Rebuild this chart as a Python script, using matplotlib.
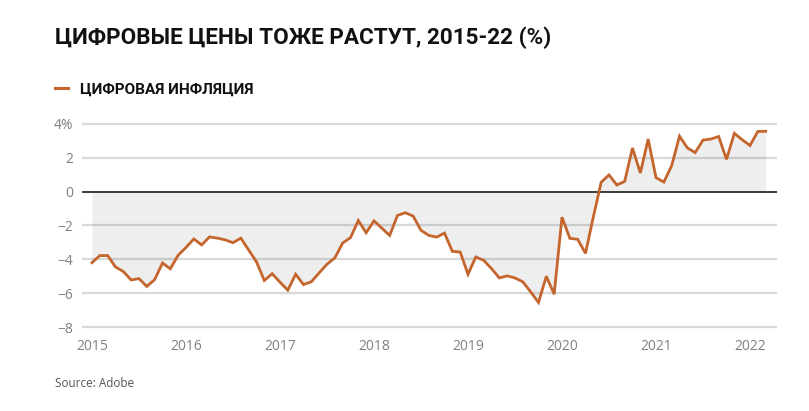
import numpy as np
import matplotlib.pyplot as plt

# monthly digital inflation, Jan 2015 - Mar 2022 (%)
start_year = 2015
values = [-4.2, -3.78, -3.78, -4.45, -4.72, -5.22, -5.14, -5.6, -5.2, -4.22, -4.56, -3.76,
          -3.3, -2.8, -3.15, -2.68, -2.75, -2.85, -3.02, -2.75, -3.45, -4.15, -5.25, -4.85,
          -5.35, -5.82, -4.88, -5.49, -5.33, -4.8, -4.29, -3.92, -3.04, -2.72, -1.71, -2.43,
          -1.73, -2.16, -2.59, -1.41, -1.25, -1.45, -2.29, -2.59, -2.69, -2.45, -3.53, -3.57,
          -4.88, -3.86, -4.06, -4.55, -5.1, -4.98, -5.1, -5.33, -5.92, -6.55, -5.0, -6.06,
          -1.51, -2.76, -2.82, -3.65, -1.5, 0.55, 0.98, 0.39, 0.6, 2.57, 1.1, 3.1,
          0.82, 0.56, 1.53, 3.27, 2.58, 2.3, 3.04, 3.1, 3.25, 1.9, 3.44, 3.06,
          2.72, 3.55, 3.56]
years = [2015, 2016, 2017, 2018, 2019, 2020, 2021, 2022]
yticks = [-8, -6, -4, -2, 0, 2, 4]
ylabels = ['\u22128', '\u22126', '\u22124', '\u22122', '0', '2', '4%']

title = 'ЦИФРОВЫЕ ЦЕНЫ ТОЖЕ РАСТУТ, 2015-22 (%)'
series_name = 'ЦИФРОВАЯ ИНФЛЯЦИЯ'
source = 'Source: Adobe'

orange = '#c4652d'

y = np.array(values)
x = start_year + np.arange(len(y)) / 12.0

fig = plt.figure(figsize=(8.09, 4.11), dpi=100)
ax = fig.add_axes([0.101, 0.196, 0.859, 0.511])

# grid
for t in yticks:
    if t == 0:
        continue
    ax.axhline(t, color='#d9d9d9', lw=1.6, zorder=1)
ax.fill_between(x, y, 0, color='#000000', alpha=0.065, lw=0, zorder=2)
ax.axhline(0, color='#1a1a1a', lw=1.2, zorder=3)
ax.plot(x, y, color=orange, lw=2.0, zorder=4, solid_joinstyle='miter')

ax.set_xlim(start_year - 1.31 / 12, start_year + 87.4 / 12)
ax.set_ylim(-8.2, 4.2)
ax.set_xticks(years)
ax.set_xticklabels([str(v) for v in years])
ax.set_yticks(yticks)
ax.set_yticklabels(ylabels)
ax.tick_params(length=0, labelsize=10, labelcolor='#808080')
ax.tick_params(axis='y', pad=6)
ax.tick_params(axis='x', pad=6)
for lab in ax.get_xticklabels() + ax.get_yticklabels():
    lab.set_family('Open Sans')
for s in ax.spines.values():
    s.set_visible(False)

fig.text(0.068, 0.893, title, fontsize=16.2, fontweight='bold', family='Roboto',
         color='#111111', va='baseline')
fig.lines.append(plt.Line2D([0.068, 0.084], [0.786, 0.786], transform=fig.transFigure,
                            color=orange, lw=2.2))
fig.text(0.099, 0.772, series_name, fontsize=11, fontweight='bold', family='Roboto',
         color='#111111', va='baseline')
fig.text(0.068, 0.058, source, fontsize=8.5, family='Open Sans', color='#555555',
         va='baseline')

fig.savefig('out.png', dpi=100)
